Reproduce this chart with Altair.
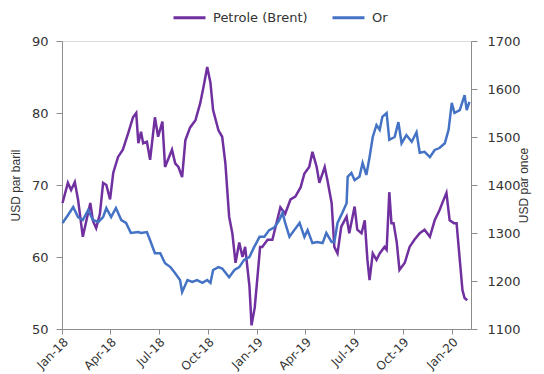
import altair as alt
import pandas as pd

oil_dates = [
    "2018-01-02", "2018-01-12", "2018-01-18", "2018-01-25", "2018-01-31", "2018-02-09",
    "2018-02-23", "2018-02-28", "2018-03-06", "2018-03-13", "2018-03-19", "2018-03-25",
    "2018-04-01", "2018-04-07", "2018-04-16", "2018-04-25", "2018-05-05", "2018-05-14",
    "2018-05-20", "2018-05-24", "2018-05-29", "2018-06-02", "2018-06-09", "2018-06-15",
    "2018-06-24", "2018-06-30", "2018-07-08", "2018-07-13", "2018-07-26", "2018-08-01",
    "2018-08-07", "2018-08-14", "2018-08-20", "2018-08-29", "2018-09-08", "2018-09-17",
    "2018-09-23", "2018-09-30", "2018-10-06", "2018-10-11", "2018-10-21", "2018-10-28",
    "2018-11-03", "2018-11-10", "2018-11-16", "2018-11-22", "2018-11-29", "2018-12-05",
    "2018-12-10", "2018-12-18", "2018-12-22", "2018-12-28", "2019-01-03", "2019-01-07",
    "2019-01-11", "2019-01-21", "2019-01-30", "2019-02-08", "2019-02-14", "2019-02-23",
    "2019-03-05", "2019-03-14", "2019-03-24", "2019-03-31", "2019-04-09", "2019-04-15",
    "2019-04-23", "2019-04-28", "2019-05-08", "2019-05-13", "2019-05-21", "2019-05-26",
    "2019-06-01", "2019-06-08", "2019-06-18", "2019-06-23", "2019-07-03", "2019-07-08",
    "2019-07-16", "2019-07-22", "2019-07-27", "2019-07-31", "2019-08-06", "2019-08-13",
    "2019-08-19", "2019-08-28", "2019-09-01", "2019-09-06", "2019-09-10", "2019-09-14",
    "2019-09-20", "2019-09-25", "2019-10-05", "2019-10-14", "2019-10-23", "2019-11-02",
    "2019-11-11", "2019-11-21", "2019-11-30", "2019-12-09", "2019-12-17", "2019-12-22",
    "2019-12-28", "2020-01-05", "2020-01-10", "2020-01-16", "2020-01-21", "2020-01-25",
    "2020-01-30",
]
oil_values = [
    67.5, 70.3, 69.3, 70.4, 68.0, 62.8,
    67.5, 65.0, 64.0, 66.0, 70.3, 70.0,
    68.0, 71.7, 73.9, 74.9, 77.2, 79.4,
    80.0, 75.8, 77.4, 75.8, 76.0, 73.5,
    79.4, 76.7, 78.8, 72.5, 74.9, 73.0,
    72.5, 71.1, 76.2, 78.0, 79.0, 81.4,
    83.6, 86.4, 84.2, 80.4, 77.6, 76.7,
    73.0, 65.6, 63.3, 59.2, 62.0, 60.0,
    61.4, 56.0, 50.5, 53.0, 58.0, 61.4,
    61.4, 62.4, 62.4, 65.1, 66.9, 66.0,
    68.0, 68.4, 69.7, 71.6, 72.5, 74.6,
    72.5, 70.3, 72.5, 70.7, 67.5, 61.4,
    60.5, 64.2, 65.6, 63.3, 67.0, 63.8,
    63.3, 65.1, 59.6, 56.8, 60.5, 59.6,
    60.5, 61.4, 61.0, 69.0, 64.7, 64.7,
    62.0, 58.2, 59.2, 61.4, 62.4, 63.3,
    63.8, 62.8, 65.1, 66.5, 68.0, 68.9,
    65.1, 64.7, 64.7, 59.6, 55.4, 54.3,
    54.0,
]

gold_dates = [
    "2018-01-02", "2018-01-12", "2018-01-22", "2018-01-31", "2018-02-09", "2018-02-19",
    "2018-02-28", "2018-03-10", "2018-03-19", "2018-03-25", "2018-04-03", "2018-04-12",
    "2018-04-22", "2018-05-01", "2018-05-10", "2018-05-24", "2018-05-29", "2018-06-09",
    "2018-06-15", "2018-06-24", "2018-07-04", "2018-07-13", "2018-07-23", "2018-08-01",
    "2018-08-10", "2018-08-14", "2018-08-24", "2018-09-02", "2018-09-11", "2018-09-21",
    "2018-09-30", "2018-10-06", "2018-10-11", "2018-10-21", "2018-10-28", "2018-11-10",
    "2018-11-20", "2018-11-29", "2018-12-08", "2018-12-18", "2018-12-27", "2019-01-06",
    "2019-01-15", "2019-01-24", "2019-02-03", "2019-02-12", "2019-02-18", "2019-02-23",
    "2019-03-03", "2019-03-12", "2019-03-22", "2019-03-31", "2019-04-06", "2019-04-15",
    "2019-04-24", "2019-05-04", "2019-05-11", "2019-05-21", "2019-05-26", "2019-06-01",
    "2019-06-10", "2019-06-18", "2019-06-20", "2019-06-27", "2019-07-03", "2019-07-12",
    "2019-07-18", "2019-07-25", "2019-07-31", "2019-08-06", "2019-08-13", "2019-08-19",
    "2019-08-24", "2019-09-01", "2019-09-06", "2019-09-16", "2019-09-23", "2019-09-29",
    "2019-10-08", "2019-10-18", "2019-10-27", "2019-11-02", "2019-11-11", "2019-11-21",
    "2019-11-30", "2019-12-09", "2019-12-19", "2019-12-26", "2020-01-01", "2020-01-06",
    "2020-01-16", "2020-01-25", "2020-01-29", "2020-02-03",
]
gold_values = [
    1321, 1337, 1354, 1333, 1327, 1348,
    1327, 1323, 1333, 1352, 1333, 1352,
    1327, 1321, 1300, 1302, 1300, 1302,
    1285, 1258, 1258, 1237, 1229, 1216,
    1202, 1177, 1202, 1198, 1202, 1196,
    1202, 1196, 1223, 1229, 1226, 1208,
    1223, 1229, 1244, 1250, 1271, 1292,
    1292, 1306, 1312, 1327, 1342, 1321,
    1292, 1306, 1321, 1292, 1306, 1279,
    1281, 1279, 1300, 1281, 1281, 1321,
    1342, 1362, 1417, 1425, 1410, 1417,
    1446, 1421, 1458, 1500, 1525, 1515,
    1542, 1550, 1494, 1500, 1531, 1487,
    1504, 1490, 1510, 1467, 1469, 1458,
    1473, 1477, 1487, 1515, 1571, 1550,
    1556, 1587, 1556, 1573,
]

series_names = ["Petrole (Brent)", "Or"]
series_colors = ["#7030A0", "#4472C4"]

oil = pd.DataFrame({"date": pd.to_datetime(oil_dates), "value": oil_values, "series": series_names[0]})
gold = pd.DataFrame({"date": pd.to_datetime(gold_dates), "value": gold_values, "series": series_names[1]})
df = pd.concat([oil, gold], ignore_index=True)

axis_gray = "#8c8c8c"
label_color = "#333333"

x_enc = alt.X(
    "date:T",
    scale=alt.Scale(domain=[alt.DateTime(year=2018, month=1, date=1),
                            alt.DateTime(year=2020, month=2, date=6)]),
    axis=alt.Axis(
        title=None, format="%b-%y", labelAngle=315,
        tickCount={"interval": "month", "step": 3},
        grid=False, domainColor=axis_gray, tickColor=axis_gray, tickSize=5,
        labelFont="DejaVu Sans", labelFontSize=12, labelColor=label_color,
        labelPadding=2, labelOverlap=False,
    ),
)

color_enc = alt.Color(
    "series:N",
    scale=alt.Scale(domain=series_names, range=series_colors),
    legend=alt.Legend(
        title=None, orient="none", direction="horizontal", legendX=110, legendY=-41,
        symbolType="stroke", symbolSize=1024, symbolStrokeWidth=3,
        labelFont="DejaVu Sans", labelFontSize=13, labelColor=label_color,
        columnPadding=18, labelOffset=6,
    ),
)

base = alt.Chart(df)

oil_line = base.transform_filter(alt.datum.series == series_names[0]).mark_line(strokeWidth=2.5).encode(
    x=x_enc,
    y=alt.Y("value:Q", scale=alt.Scale(domain=[50, 90], nice=False, zero=False),
            axis=alt.Axis(title="USD par baril", values=[50, 60, 70, 80, 90], orient="left",
                          grid=False, domainColor=axis_gray, tickColor=axis_gray, tickSize=6,
                          labelFont="DejaVu Sans", labelFontSize=13, labelColor=label_color,
                          labelPadding=8, titleFont="Liberation Sans", titleFontSize=12,
                          titleFontWeight="normal", titleColor=label_color, titlePadding=9)),
    color=color_enc,
)

gold_line = base.transform_filter(alt.datum.series == series_names[1]).mark_line(strokeWidth=2.5).encode(
    x=x_enc,
    y=alt.Y("value:Q", scale=alt.Scale(domain=[1100, 1700], nice=False, zero=False),
            axis=alt.Axis(title="USD par once", values=[1100, 1200, 1300, 1400, 1500, 1600, 1700],
                          format="d", orient="right", grid=False, domainColor=axis_gray,
                          tickColor=axis_gray, tickSize=6, labelFont="DejaVu Sans",
                          labelFontSize=13, labelColor=label_color, labelPadding=10,
                          titleFont="Liberation Sans", titleFontSize=12,
                          titleFontWeight="normal", titleColor=label_color,
                          titleAngle=270, titlePadding=10)),
    color=color_enc,
)

chart = alt.layer(oil_line, gold_line).resolve_scale(y="independent").properties(
    width=409, height=288,
    autosize=alt.AutoSizeParams(type="none"),
    padding={"left": 62, "top": 41, "right": 73, "bottom": 45},
).configure_view(stroke=None).configure(background="white")

chart.save("out.html", embed_options={"renderer": "svg", "actions": False})
